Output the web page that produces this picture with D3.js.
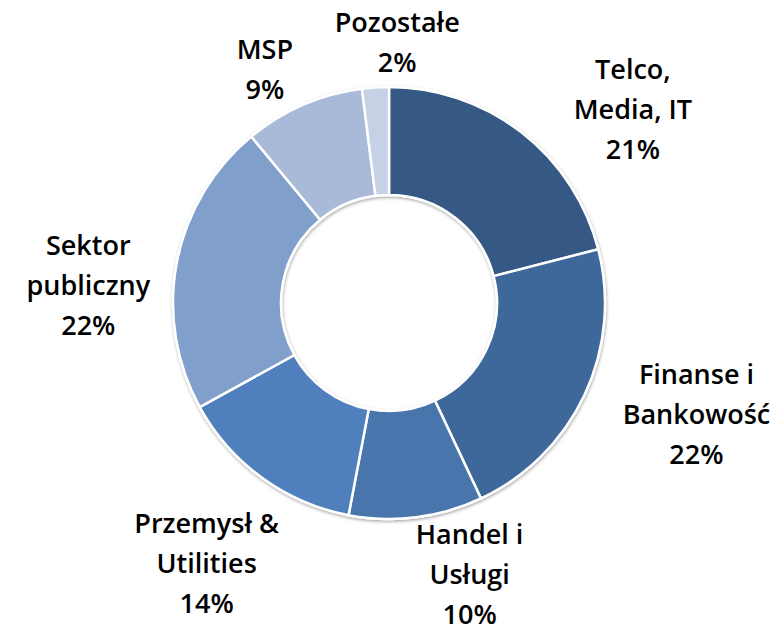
<!DOCTYPE html>
<html lang="pl">
<head>
<meta charset="utf-8">
<title>Struktura przychodów wg sektorów</title>
<script src="https://cdn.jsdelivr.net/npm/d3@7"></script>
<style>
  body { margin: 0; background: #fff; }
  .lbl {
    font-family: "Open Sans", sans-serif;
    font-size: 27px;
    font-weight: 600;
    fill: #000;
    text-anchor: middle;
  }
  .slice { stroke: #fff; stroke-width: 2.5px; }
</style>
</head>
<body>
<script>
// data
var sectors = ["Telco,|Media, IT", "Finanse i|Bankowość", "Handel i|Usługi", "Przemysł &|Utilities", "Sektor|publiczny", "MSP", "Pozostałe"];
var shares = [21, 22, 10, 14, 22, 9, 2];
var colors = ["#355884", "#3e6799", "#4674ac", "#4f80bd", "#809fcb", "#a9b9d8", "#c6d1e5"];

// layout
var w = 780, h = 635;
var cx = 389, cy = 303;
var rOut = 216, rIn = 108, rLab = 300;
var lineH = 40;
// hand tuned shifts of label blocks (Excel "best fit")
var nudge = [[60, 44], [36, -16], [43, -26], [-6, 18], [-6, 39], [-5, 42], [27, 39]];

var svg = d3.select("body").append("svg").attr("width", w).attr("height", h);

var defs = svg.append("defs");
defs.append("filter").attr("id", "shadow")
    .attr("x", "-10%").attr("y", "-10%").attr("width", "120%").attr("height", "120%")
  .append("feDropShadow")
    .attr("dx", 0.5).attr("dy", 1.5).attr("stdDeviation", 1.8)
    .attr("flood-color", "#000").attr("flood-opacity", 0.35);

var pie = d3.pie().sort(null).value(function(d) { return d; });
var arcs = pie(shares);

var arc = d3.arc().innerRadius(rIn).outerRadius(rOut);
var labArc = d3.arc().innerRadius(rLab).outerRadius(rLab);

var g = svg.append("g").attr("transform", "translate(" + cx + "," + cy + ")");

g.append("g").attr("filter", "url(#shadow)")
  .selectAll("path").data(arcs).enter().append("path")
    .attr("class", "slice")
    .attr("d", arc)
    .attr("fill", function(d, i) { return colors[i]; });

var labels = g.selectAll("text.lbl").data(arcs).enter().append("text")
    .attr("class", "lbl")
    .attr("transform", function(d, i) {
        var c = labArc.centroid(d);
        return "translate(" + (c[0] + nudge[i][0]) + "," + (c[1] + nudge[i][1]) + ")";
    });

labels.each(function(d, i) {
    var lines = sectors[i].split("|").concat([shares[i] + "%"]);
    var n = lines.length;
    // block vertically centred on anchor; cap height ~ 0.72em
    var y0 = -((n - 1) * lineH) / 2 + 9.5;
    d3.select(this).selectAll("tspan").data(lines).enter().append("tspan")
        .attr("x", 0)
        .attr("y", function(t, k) { return y0 + k * lineH; })
        .text(function(t) { return t; });
});
</script>
</body>
</html>
